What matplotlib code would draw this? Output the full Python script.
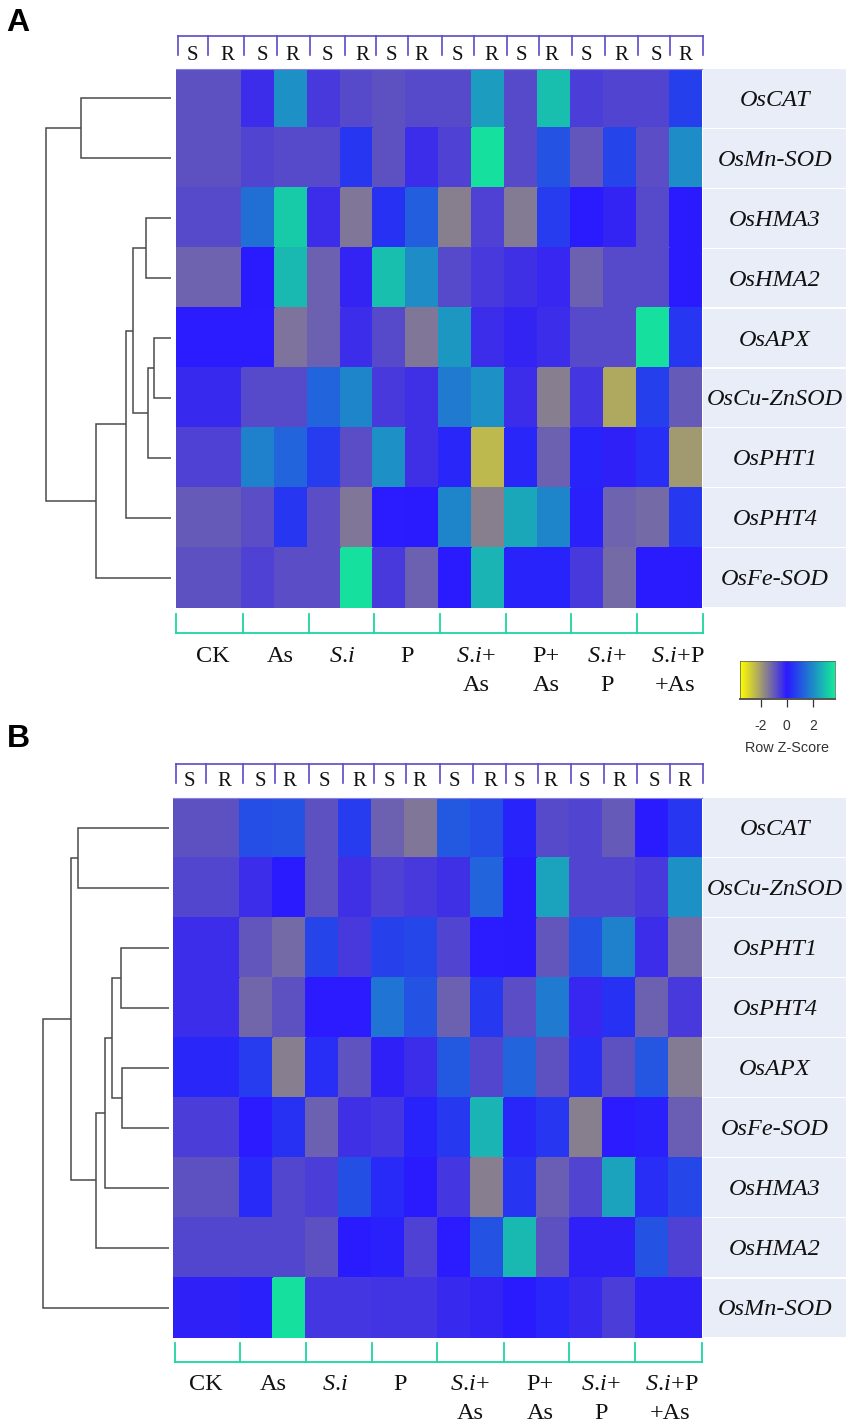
import numpy as np
from matplotlib import pyplot as plt
from matplotlib.colors import LinearSegmentedColormap, Normalize

plt.rcParams['font.family'] = ['Liberation Serif', 'DejaVu Serif']
plt.rcParams['mathtext.fontset'] = 'custom'
plt.rcParams['mathtext.rm'] = 'Liberation Serif'
plt.rcParams['mathtext.it'] = 'Liberation Serif:italic'

W, H = 854, 1425

# z-scores, one row per gene, 8 treatments x S/R
genes_a = ['OsCAT', 'OsMn-SOD', 'OsHMA3', 'OsHMA2', 'OsAPX',
           'OsCu-ZnSOD', 'OsPHT1', 'OsPHT4', 'OsFe-SOD']
values_a = [
    [-.85, -.85, -.3, 2.1, -.5, -.75, -.85, -.75, -.75, 2.3, -.75, 2.9, -.55, -.65, -.65, .65],
    [-.85, -.85, -.65, -.75, -.75, .5, -.85, -.3, -.6, 3.5, -.75, 1.0, -.95, .75, -.8, 2.0],
    [-.75, -.75, 1.5, 3.1, -.3, -1.45, .4, 1.2, -1.6, -.6, -1.5, .6, 0, -.15, -.75, 0],
    [-1.15, -1.15, 0, 2.8, -1.1, -.15, 2.9, 2.0, -.75, -.5, -.35, -.2, -1.1, -.75, -.75, 0],
    [.05, .05, .05, -1.4, -1.1, -.3, -.75, -1.45, 2.2, -.3, -.15, -.3, -.75, -.75, 3.5, .5],
    [-.25, -.25, -.75, -.75, 1.3, 1.9, -.5, -.35, 1.7, 2.1, -.3, -1.55, -.45, -2.25, .65, -1.0],
    [-.6, -.6, 1.8, 1.3, .6, -.8, 2.1, -.35, .2, -2.5, .2, -1.1, .15, -.1, .35, -2.0],
    [-1.0, -1.0, -.8, .5, -.8, -1.45, .03, 0, 1.9, -1.6, 2.5, 1.9, .1, -1.15, -1.25, .55],
    [-.85, -.85, -.6, -.8, -.8, 3.5, -.5, -1.1, 0, 2.7, .15, .15, -.5, -1.25, 0, 0],
]
genes_b = ['OsCAT', 'OsCu-ZnSOD', 'OsPHT1', 'OsPHT4', 'OsAPX',
           'OsFe-SOD', 'OsHMA3', 'OsHMA2', 'OsMn-SOD']
values_b = [
    [-.85, -.85, .9, 1.0, -.85, .6, -1.1, -1.45, 1.1, .9, .15, -.75, -.65, -1.0, 0, .5],
    [-.7, -.7, -.3, 0, -.85, -.35, -.6, -.5, -.35, 1.3, 0, 2.4, -.65, -.65, -.5, 2.1],
    [-.3, -.3, -.95, -1.25, .75, -.5, .7, .8, -.65, .05, 0, -.95, 1.0, 1.8, -.3, -1.25],
    [-.3, -.3, -1.2, -.85, -.02, -.02, 1.6, 1.0, -1.1, .55, -.8, 1.7, -.2, .4, -1.1, -.5],
    [.2, .2, .6, -1.55, .35, -.9, -.1, -.3, 1.1, -.7, 1.3, -.85, .35, -.85, 1.05, -1.5],
    [-.55, -.55, -.02, .4, -1.1, -.35, -.45, .15, .55, 2.7, .2, .5, -1.6, -.02, .1, -1.05],
    [-.85, -.85, .3, -.7, -.55, .95, .3, 0, -.45, -1.55, .45, -1.05, -.65, 2.4, .35, .8],
    [-.7, -.7, -.7, -.7, -.85, 0, .1, -.6, .05, 1.0, 2.8, -.85, -.1, -.1, 1.0, -.6],
    [-.1, -.1, .1, 3.5, -.45, -.45, -.4, -.4, -.25, -.15, 0, .2, -.25, -.55, -.1, -.1],
]

# dendrograms: (merge distance, left, right), ints are row numbers
tree_a = (125.5, (90.5, 0, 1),
          (75, (45, (38.5, (25.5, 2, 3), (23, (17, 4, 5), 6)), 7), 8))
tree_b = (126, (98, (91.3, 0, 1),
                (73, (63.6, (57.3, (48.3, 2, 3), (47, 4, 5)), 6), 7)), 8)

sr_labels = ['S', 'R'] * 8
# mathtext pads a dot with a space, \! takes it back
si = r'$\mathit{S.\!i}$'
group_labels = [['CK'], ['As'], [si], ['P'],
                [si + '+', 'As'], ['P+', 'As'],
                [si + '+', 'P'], [si + '+P', '+As']]
cbar_ticks = [-2, 0, 2]

purple = '#5a4cc8'
green = '#1fd6a0'
cmap = LinearSegmentedColormap.from_list('zs', ['#ffff00', '#2a1aff', '#14e59b'])
norm = Normalize(-3.6, 3.6)

fig = plt.figure(figsize=(W / 100, H / 100), dpi=100, facecolor='white')


def px_axes(x0, y0, x1, y1):
    # axes from pixel box, y counted from the top
    return fig.add_axes([x0 / W, 1 - y1 / H, (x1 - x0) / W, (y1 - y0) / H])


overlay = px_axes(0, 0, W, H)
overlay.set_xlim(0, W)
overlay.set_ylim(H, 0)
overlay.axis('off')


def draw_tree(ax, node):
    # returns (distance, row) of the node, draws its two branches
    if isinstance(node, int):
        return 0, node + 0.5
    d, left, right = node
    d1, y1 = draw_tree(ax, left)
    d2, y2 = draw_tree(ax, right)
    ax.plot([d1, d, d, d2], [y1, y1, y2, y2], color='#4a4a4a', lw=1.1,
            solid_joinstyle='miter', solid_capstyle='butt')
    return d, (y1 + y2) / 2


def draw_panel(values, genes, tree, heat_box, top_ticks, top_y, sr_x, sr_y,
               bottom_ticks, bottom_y, group_x, group_y):
    x0, y0, x1, y1 = heat_box
    ax = px_axes(x0, y0, x1, y1)
    ax.pcolormesh(np.arange(17), np.arange(10), np.array(values), cmap=cmap,
                  norm=norm, edgecolors='face', linewidth=0.1)
    ax.set_ylim(9, 0)
    ax.set_xticks([])
    ax.set_yticks([])
    for name, spine in ax.spines.items():
        spine.set_visible(name == 'top')
        spine.set_color('#8a80e0')
        spine.set_linewidth(0.8)

    # dendrogram shares the row scale of the heat map
    dax = px_axes(0, y0, x0 - 4.5, y1)
    dax.set_xlim(x0 - 4.5, 0)
    dax.set_ylim(9, 0)
    dax.axis('off')
    draw_tree(dax, tree)

    # gene name boxes
    row_h = (y1 - y0) / 9
    for i, gene in enumerate(genes):
        top = y0 + i * row_h
        overlay.fill_between([x1 + 1, 846], top + 0.6, top + row_h - 0.6,
                             color='#e8edf7', lw=0)
        overlay.text(775, top + row_h / 2 + 2, gene, style='italic', fontsize=17.5,
                     ha='center', va='center', color='#111111')

    # S / R bracket
    overlay.plot([top_ticks[0], top_ticks[-1]], [top_y, top_y], color=purple, lw=1.2)
    for x in top_ticks:
        overlay.plot([x, x], [top_y, top_y + 18.5], color=purple, lw=1.2)
    for x, lab in zip(sr_x, sr_labels):
        overlay.text(x, sr_y + 2, lab, fontsize=15, ha='center', va='center', color='#111111')

    # treatment bracket
    overlay.plot([bottom_ticks[0], bottom_ticks[-1]], [bottom_y, bottom_y], color=green, lw=1.3)
    for x in bottom_ticks:
        overlay.plot([x, x], [bottom_y - 18.5, bottom_y], color=green, lw=1.3)
    for lines, xs in zip(group_labels, group_x):
        for line, x, y in zip(lines, xs, group_y):
            overlay.text(x, y + 2.5, line, fontsize=17.5, ha='center', va='center', color='#111111')


draw_panel(values_a, genes_a, tree_a, (176, 68.5, 702.5, 607.5),
           [178, 208, 244.5, 277, 310.5, 345.5, 376, 408, 442, 474, 507, 539, 572, 605, 638, 670, 703.5],
           36, [192, 227, 262, 292, 327, 362, 391, 421, 457, 491, 521, 551, 586, 621, 656, 685], 53,
           [176.5, 243, 309, 374, 440, 506, 571, 637, 703], 632.5,
           [[213], [280], [342], [407], [476, 476], [546, 546], [607, 607], [678, 675]],
           [654, 683])
draw_panel(values_b, genes_b, tree_b, (173.5, 797.5, 702, 1338),
           [175.7, 206, 242.7, 275, 308.7, 343, 374, 406, 440, 472.7, 506, 538, 571.5, 604.5, 637.5, 670, 703],
           764, [189, 224, 260, 289, 324, 359, 389, 419, 454, 490, 519, 550, 584, 619, 654, 684], 779,
           [175, 240, 306, 372, 437, 504, 569, 635, 702], 1361.5,
           [[206], [273], [335], [400], [470, 470], [540, 540], [601, 601], [672, 670]],
           [1382, 1411])

# colour key
cax = px_axes(740, 660.7, 835, 699.3)
grid = np.linspace(-3.6, 3.7, 256)
cax.pcolormesh(grid, [0, 1], grid[:-1].reshape(1, -1), cmap=cmap, norm=norm)
cax.set_yticks([])
cax.set_xticks(cbar_ticks)
cax.set_xticklabels([str(t) for t in cbar_ticks], family='Liberation Sans', fontsize=10, color='#333333')
cax.tick_params(axis='x', length=6, width=0.9, pad=8.5, color='#333333')
for name, spine in cax.spines.items():
    spine.set_color('#555555')
    spine.set_linewidth(1.4 if name == 'bottom' else 0.5)
overlay.text(787, 748, 'Row Z-Score', family='Liberation Sans', fontsize=10.4,
             ha='center', va='center', color='#333333')

# panel letters
for lab, y in zip(['A', 'B'], [23, 739]):
    overlay.text(18, y, lab, family='Liberation Sans', weight='bold', fontsize=23,
                 ha='center', va='center', color='black')

fig.savefig('out.png', dpi=100)
